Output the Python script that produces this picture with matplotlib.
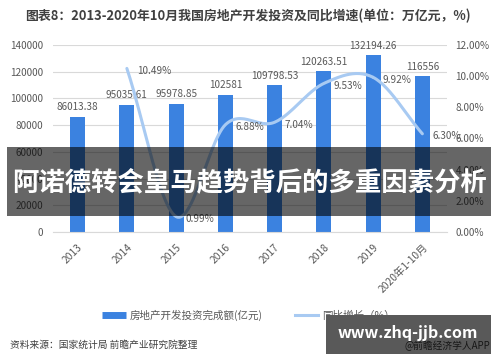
import matplotlib
matplotlib.use('Agg')
import matplotlib.pyplot as plt
import numpy as np
from matplotlib.lines import Line2D
from matplotlib.patches import Rectangle

plt.rcParams['font.family'] = ['Noto Sans CJK SC', 'DejaVu Sans']

years = ['2013', '2014', '2015', '2016', '2017', '2018', '2019', '2020年1-10月']
invest = [86013.38, 95035.61, 95978.85, 102581, 109798.53, 120263.51, 132194.26, 116556]
invest_labels = ['86013.38', '95035.61', '95978.85', '102581', '109798.53',
                 '120263.51', '132194.26', '116556']
growth_years = ['2014', '2015', '2016', '2017', '2018', '2019', '2020年1-10月']
growth = [10.49, 0.99, 6.88, 7.04, 9.53, 9.92, 6.30]

bar_c = '#3b82e0'
line_c = '#a8caf2'
txt_c = '#595959'


def smooth(x, y, n=30):
    # catmull-rom style smoothing, like the spreadsheet "smoothed line"
    x = np.asarray(x, float)
    y = np.asarray(y, float)
    px = np.concatenate([[2 * x[0] - x[1]], x, [2 * x[-1] - x[-2]]])
    py = np.concatenate([[2 * y[0] - y[1]], y, [2 * y[-1] - y[-2]]])
    xs, ys = [], []
    t = np.linspace(0, 1, n)
    for i in range(1, len(px) - 2):
        for p, out in ((px, xs), (py, ys)):
            p0, p1, p2, p3 = p[i - 1], p[i], p[i + 1], p[i + 2]
            out.extend(0.5 * ((2 * p1) + (-p0 + p2) * t
                              + (2 * p0 - 5 * p1 + 4 * p2 - p3) * t ** 2
                              + (-p0 + 3 * p1 - 3 * p2 + p3) * t ** 3))
    return np.array(xs), np.array(ys)


fig = plt.figure(figsize=(5, 3.62), dpi=100)
ax = fig.add_axes([0.106, 0.359, 0.788, 0.517])
xi = np.arange(len(years))
ax.bar(xi, invest, width=0.3, color=bar_c, zorder=2)
for x, v, s in zip(xi, invest, invest_labels):
    ax.text(x, v + 3500, s, ha='center', va='bottom', fontsize=7.2, color=txt_c)
ax.set_xlim(-0.5, len(years) - 0.5)
ax.set_ylim(0, 140000)
ax.set_yticks(np.arange(0, 140001, 20000))
ax.grid(axis='y', color='#d9d9d9', lw=0.8, zorder=0)
for s in ['top', 'right', 'left']:
    ax.spines[s].set_visible(False)
ax.spines['bottom'].set_color('#d9d9d9')
ax.tick_params(axis='y', length=0, pad=7, labelsize=7.2, labelcolor=txt_c)
ax.set_xticks(xi)
ax.set_xticklabels(years, rotation=45, ha='right', va='top', rotation_mode='anchor')
ax.tick_params(axis='x', length=0, pad=7, labelsize=7.4, labelcolor=txt_c)

ax2 = ax.twinx()
ax2.set_ylim(0, 12)
ax2.set_yticks(np.arange(0, 12.1, 2))
ax2.set_yticklabels(['%.2f%%' % v for v in np.arange(0, 12.1, 2)])
ax2.tick_params(axis='y', length=0, pad=6, labelsize=7.2, labelcolor=txt_c)
for s in ax2.spines.values():
    s.set_visible(False)
gx = np.array([years.index(y) for y in growth_years])
sx, sy = smooth(gx, growth)
ax2.plot(sx, sy, color=line_c, lw=2.2, solid_capstyle='round', zorder=3)
for x, v in zip(gx, growth):
    ax2.text(x + 0.2, v - 0.15, '%.2f%%' % v, ha='left', va='center',
             fontsize=7.2, color=txt_c)

fig.text(0.496, 0.957, '图表8：2013-2020年10月我国房地产开发投资及同比增速(单位：万亿元，%)',
         ha='center', va='center', fontsize=9.3, fontweight='bold', color='#404040')

handles = [Line2D([], [], color=bar_c, lw=5, solid_capstyle='butt'),
           Line2D([], [], color=line_c, lw=2.2)]
fig.legend(handles, ['房地产开发投资完成额(亿元)', '同比增长（%）'], loc='center',
           bbox_to_anchor=(0.497, 0.13), ncol=2, frameon=False, fontsize=7.6,
           handlelength=2.2, handletextpad=0.4, columnspacing=3.0,
           labelcolor='#595959')

fig.text(0.02, 0.047, '资料来源：国家统计局 前瞻产业研究院整理', ha='left', va='center',
         fontsize=7, color='#404040')
fig.text(0.98, 0.045, '@前瞻经济学人APP', ha='right', va='center', fontsize=7, color='#404040')

# overlay banners
fig.patches.append(Rectangle((0.014, 1 - 216 / 362), 0.968, 69 / 362, transform=fig.transFigure,
                             facecolor='black', alpha=0.6, edgecolor='none', zorder=5))
fig.text(0.498, 1 - 183 / 362, '阿诺德转会皇马趋势背后的多重因素分析', ha='center', va='center',
         fontsize=19, fontweight='bold', color='white', zorder=6)
fig.patches.append(Rectangle((326 / 500, 1 - 354 / 362), 165 / 500, 39 / 362, transform=fig.transFigure,
                             facecolor='black', alpha=0.65, edgecolor='none', zorder=5))
fig.text(408 / 500, 1 - 333 / 362, 'www.zhq-jjb.com', ha='center', va='center',
         fontsize=11.5, fontweight='bold', color='white', zorder=6)

fig.savefig('out.png', dpi=100)
